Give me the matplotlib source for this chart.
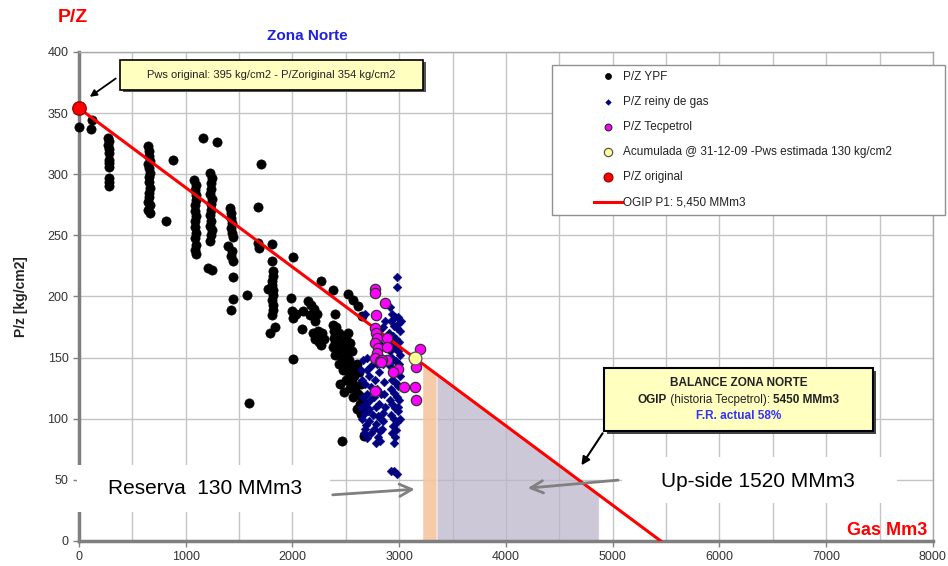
import matplotlib.pyplot as plt
from matplotlib.patches import Rectangle
from matplotlib.offsetbox import TextArea, HPacker, AnchoredOffsetbox
from matplotlib.ticker import MultipleLocator

plt.rcParams['font.family'] = ['Liberation Sans', 'DejaVu Sans']

# P/Z YPF (gas acumulado MMm3, P/z kg/cm2)
ypf_gas = [0, 110, 120,
           270, 285, 275, 285, 280, 280, 285, 280, 285, 280, 285,
           650, 660, 655, 665, 650, 660, 665, 655, 660, 665, 655, 660, 650, 665, 646, 670,
           812, 877, 1158, 1289,
           1080, 1095, 1085, 1092, 1100, 1088, 1085, 1095, 1090, 1085, 1095, 1086, 1092, 1088, 1095,
           1230, 1242, 1235, 1240, 1230, 1245, 1235, 1240, 1232, 1240, 1228, 1245, 1235, 1227, 1211, 1245,
           1414, 1428, 1420, 1435, 1422, 1430, 1440, 1398, 1430, 1425, 1440, 1444, 1445, 1423,
           1576, 1590, 1701, 1673, 1679, 1685,
           1804, 1808, 1815, 1822, 1812, 1808, 1820, 1773, 1815, 1810, 1822, 1815, 1810, 1788, 1835,
           2007, 1991, 2007, 2085, 2007, 2000, 2030, 2099,
           2150, 2170, 2200, 2230, 2160, 2210,
           2190, 2210, 2230, 2250, 2270, 2300, 2240, 2280,
           2272, 2381, 2397, 2380, 2390, 2385, 2395, 2380,
           2522, 2568, 2615, 2647,
           2410, 2440, 2420, 2450, 2430, 2460, 2400, 2480, 2500, 2520, 2540, 2510, 2490, 2470,
           2440, 2530, 2560, 2550, 2520, 2500, 2560, 2540, 2580, 2600, 2620, 2590, 2610, 2570,
           2640, 2650, 2630, 2660, 2600, 2640, 2580, 2460, 2668, 2450, 2480]
ypf_pz = [339, 337, 344,
          330, 327, 324, 321, 317, 312, 309, 306, 297, 294, 290,
          323, 319, 315, 311, 308, 305, 301, 298, 294, 289, 285, 281, 277, 275, 271, 268,
          262, 312, 330, 326,
          295, 291, 287, 283, 279, 275, 270, 266, 262, 257, 252, 248, 242, 238, 235,
          301, 297, 293, 288, 284, 280, 276, 271, 267, 262, 258, 254, 250, 245, 223, 222,
          272, 268, 264, 260, 256, 252, 249, 241, 237, 233, 229, 216, 198, 189,
          201, 113, 308, 273, 244, 240,
          243, 229, 221, 217, 213, 209, 205, 206, 201, 197, 193, 189, 185, 170, 175,
          232, 199, 182, 173, 149, 188, 186, 188,
          196, 193, 190, 186, 185, 180,
          170, 165, 168, 163, 160, 165, 172, 170,
          213, 205, 186, 177, 172, 166, 162, 159,
          202, 197, 192, 184,
          175, 170, 165, 160, 155, 150, 152, 158, 165, 170, 162, 153, 145, 140,
          145, 148, 155, 142, 138, 132, 130, 125, 135, 145, 138, 125, 120, 118,
          128, 118, 112, 110, 108, 104, 140, 82, 86, 128, 122]

# P/Z reinyeccion de gas
reiny_gas = [2660, 2700, 2650, 2680, 2720, 2740, 2700, 2660, 2730, 2690, 2760, 2780, 2640, 2670,
             2710, 2750, 2720, 2780, 2690, 2800, 2760, 2820, 2740, 2800, 2840, 2830, 2810, 2850,
             2790, 2830, 2850, 2860, 2870, 2770, 2810, 2680, 2670, 2700, 2640, 2740, 2790, 2850,
             2860, 2780, 2820, 2720, 2650, 2700,
             2910, 2930, 2960, 2990, 3000, 2920, 2950, 2980, 3010, 2900, 2940, 2970, 3000, 2920,
             2960, 2990, 3010, 2930, 2970, 3000, 2910, 2950, 2980, 3010, 2930, 2960, 2990, 2920,
             2950, 2980, 3000, 2930, 2960, 2990, 2920, 2950, 2980, 2940, 2970, 2930, 2960, 2950,
             2990, 2910, 2945, 2975, 3020, 2915, 3005,
             2975, 2975, 2927, 2980, 2950, 2678, 2790, 2830, 2840, 2810, 2850, 2870]
reiny_pz = [148, 140, 132, 128, 135, 126, 120, 118, 115, 112, 118, 110, 110, 104,
            106, 103, 98, 96, 95, 102, 92, 90, 88, 85, 92, 100, 112, 105,
            124, 120, 98, 120, 110, 132, 138, 92, 88, 150, 140, 143, 145, 145,
            130, 80, 82, 108, 100, 84,
            191, 186, 183, 183, 178, 180, 176, 174, 172, 170, 168, 165, 163, 160,
            158, 155, 152, 150, 147, 145, 143, 140, 138, 135, 132, 130, 127, 124,
            121, 118, 115, 112, 109, 106, 103, 100, 97, 94, 91, 88, 85, 80,
            110, 155, 148, 128, 180, 115, 100,
            216, 208, 57, 55, 57, 186, 165, 160, 150, 172, 175, 180]

# P/Z Tecpetrol
tec_gas = [2772, 2772, 2865, 2781, 2770, 2780, 2790, 2775, 2800, 2790, 2775, 2820, 2881, 2889,
           2881, 2840, 2830, 2990, 2943, 3043, 2772, 3199, 3146, 3155, 3162]
tec_pz = [206, 203, 195, 185, 174, 170, 166, 162, 158, 154, 150, 147, 166, 159,
          148, 148, 146, 141, 138, 126, 123, 157, 126, 142, 115]

# acumulada al 31-12-09 y punto original
acum_gas = 3150
acum_pz = 150
pz_original = 354
ogip = 5450

# reserva y up-side (MMm3)
reserva_inicio = 3220
reserva = 130
upside = 1520


def pz_recta(g):
    return pz_original * (1 - g / ogip)


fig = plt.figure(figsize=(9.48, 5.66), dpi=100)
ax = fig.add_axes([0.0833, 0.0442, 0.9008, 0.864])

ax.set_xlim(0, 8000)
ax.set_ylim(0, 400)
ax.xaxis.set_major_locator(MultipleLocator(1000))
ax.xaxis.set_minor_locator(MultipleLocator(500))
ax.yaxis.set_major_locator(MultipleLocator(50))
ax.grid(True, which='both', color='#c4c4c4', lw=1.0)
ax.set_axisbelow(True)
ax.tick_params(axis='both', which='major', labelsize=9, labelcolor='#333333',
               color='#808080', length=4, width=1)
ax.tick_params(axis='both', which='minor', length=0)
for s in ['left', 'bottom']:
    ax.spines[s].set_color('#7f7f7f')
    ax.spines[s].set_linewidth(2.5)
for s in ['top', 'right']:
    ax.spines[s].set_color('#a8a8a8')
    ax.spines[s].set_linewidth(1)

# areas de reserva y up-side bajo la recta
g1 = [reserva_inicio, reserva_inicio + reserva]
g2 = [reserva_inicio + reserva, reserva_inicio + reserva + upside]
ax.fill_between(g1, 0, [pz_recta(g) for g in g1], color='#f4c6a0', alpha=0.9, lw=0, zorder=1)
ax.fill_between(g2, 0, [pz_recta(g) for g in g2], color='#bdb6cc', alpha=0.75,
                edgecolor='white', lw=0.8, zorder=1)

h_ypf = ax.scatter(ypf_gas, ypf_pz, s=44, c='black', edgecolors='black', lw=0.5,
                   zorder=3, clip_on=False, label='P/Z YPF')
h_rei = ax.scatter(reiny_gas, reiny_pz, s=20, marker='D', c='#000080', edgecolors='#000080',
                   lw=0.3, zorder=3, label='P/Z reiny de gas')
h_line, = ax.plot([0, ogip], [pz_original, 0], color='#ff0000', lw=2.2, zorder=4,
                  label='OGIP P1: 5,450 MMm3')
h_tec = ax.scatter(tec_gas, tec_pz, s=55, c='#ff00ff', edgecolors='#333333', lw=0.9,
                   zorder=5, label='P/Z Tecpetrol')
h_acu = ax.scatter([acum_gas], [acum_pz], s=85, c='#ffff99', edgecolors='#555555', lw=0.9,
                   zorder=6, label='Acumulada @ 31-12-09 -Pws estimada 130 kg/cm2')
h_ori = ax.scatter([0], [pz_original], s=95, c='#ff0000', edgecolors='#990000', lw=0.9,
                   zorder=6, clip_on=False, label='P/Z original')

# leyenda con caja propia
ax.add_patch(Rectangle((0.554, 0.667), 0.46, 0.306, transform=ax.transAxes,
                       facecolor='white', edgecolor='#909090', lw=1, zorder=7, clip_on=False))
leg = ax.legend(handles=[h_ypf, h_rei, h_tec, h_acu, h_ori, h_line], loc='upper left',
                bbox_to_anchor=(0.603, 0.962), frameon=False, fontsize=8.5,
                labelspacing=1.12, handlelength=2.4, handletextpad=0.1,
                borderpad=0, borderaxespad=0, markerscale=0.65)
leg.set_zorder(8)
for t in leg.get_texts():
    t.set_color('#222222')

# caja P/Z original
ax.add_patch(Rectangle((0.051, 0.918), 0.355, 0.062, transform=ax.transAxes,
                       facecolor='#555555', edgecolor='none', zorder=7, clip_on=False))
ax.add_patch(Rectangle((0.048, 0.922), 0.355, 0.062, transform=ax.transAxes,
                       facecolor='#ffffc0', edgecolor='black', lw=1.2, zorder=7, clip_on=False))
ax.text(0.2255, 0.953, 'Pws original: 395 kg/cm2 - P/Zoriginal 354 kg/cm2',
        transform=ax.transAxes, ha='center', va='center', fontsize=8, color='#222222', zorder=8)
ax.annotate('', xy=(80, 362), xytext=(0.0457, 0.949), textcoords='axes fraction',
            arrowprops=dict(arrowstyle='-|>', color='black', lw=1.3, mutation_scale=10),
            zorder=8)

# caja balance zona norte
ax.add_patch(Rectangle((0.618, 0.219), 0.315, 0.129, transform=ax.transAxes,
                       facecolor='#444444', edgecolor='none', zorder=7))
ax.add_patch(Rectangle((0.615, 0.225), 0.315, 0.129, transform=ax.transAxes,
                       facecolor='#ffffc0', edgecolor='black', lw=1.5, zorder=7))
ax.text(0.7725, 0.323, 'BALANCE ZONA NORTE', transform=ax.transAxes, ha='center',
        va='center', fontsize=8.5, fontweight='bold', color='#222222', zorder=8)
linea2 = HPacker(children=[
    TextArea('OGIP', textprops=dict(fontsize=8.5, fontweight='bold', color='#222222')),
    TextArea(' (historia Tecpetrol): ', textprops=dict(fontsize=8.5, color='#222222')),
    TextArea('5450 MMm3', textprops=dict(fontsize=8.5, fontweight='bold', color='#222222')),
], pad=0, sep=0, align='baseline')
caja2 = AnchoredOffsetbox(loc='center', child=linea2, pad=0, borderpad=0, frameon=False,
                          bbox_to_anchor=(0.7725, 0.289), bbox_transform=ax.transAxes)
caja2.set_zorder(8)
ax.add_artist(caja2)
ax.text(0.7725, 0.256, 'F.R. actual 58%', transform=ax.transAxes, ha='center',
        va='center', fontsize=8.5, fontweight='bold', color='#3333ff', zorder=8)
ax.annotate('', xy=(4693, 60), xytext=(0.615, 0.225), textcoords='axes fraction',
            arrowprops=dict(arrowstyle='-|>', color='black', lw=1.5, mutation_scale=12),
            zorder=8)

# textos de reserva y up-side
ax.add_patch(Rectangle((-0.002, 0.059), 0.296, 0.096, transform=ax.transAxes,
                       facecolor='white', edgecolor='none', zorder=5, clip_on=False))
ax.text(0.148, 0.108, 'Reserva  130 MMm3', transform=ax.transAxes, ha='center',
        va='center', fontsize=15, color='black', zorder=6)
ax.annotate('', xy=(3172, 42.5), xytext=(2351, 37.6),
            arrowprops=dict(arrowstyle='->', color='#808080', lw=2, mutation_scale=22),
            zorder=6)
ax.add_patch(Rectangle((0.636, 0.078), 0.322, 0.094, transform=ax.transAxes,
                       facecolor='white', edgecolor='none', zorder=5))
ax.text(0.795, 0.122, 'Up-side 1520 MMm3', transform=ax.transAxes, ha='center',
        va='center', fontsize=15, color='black', zorder=6)
ax.annotate('', xy=(4178, 43), xytext=(5077, 50),
            arrowprops=dict(arrowstyle='->', color='#808080', lw=2, mutation_scale=22),
            zorder=6)

ax.text(0.993, 0.012, 'Gas Mm3', transform=ax.transAxes, ha='right', va='baseline',
        fontsize=13, fontweight='bold', color='#ff0000', zorder=6)

ax.set_ylabel('P/z [kg/cm2]', fontsize=10, fontweight='bold', color='#222222', labelpad=14)
fig.text(0.324, 0.937, 'Zona Norte', ha='center', va='center', fontsize=11,
         fontweight='bold', color='#2020e0')
fig.text(0.061, 0.961, 'P/Z', ha='left', va='baseline', fontsize=14, fontweight='bold',
         color='#ff0000')

fig.savefig('out.png', dpi=100)
